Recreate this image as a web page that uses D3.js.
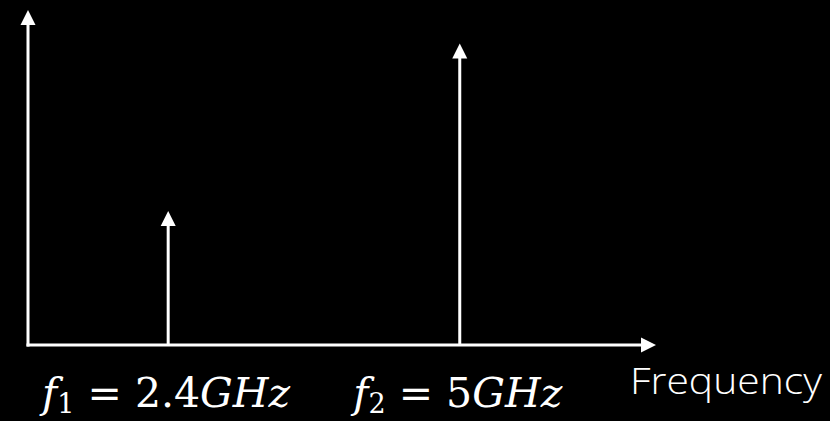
<!DOCTYPE html>
<html><head><meta charset="utf-8">
<script src="https://cdn.jsdelivr.net/npm/d3@7"></script>
<style>html,body{margin:0;padding:0;background:#000;}svg{display:block;}</style>
</head><body>
<svg id="chart" width="830" height="421"></svg>
<script>
// Data
const categories = ["f1", "f2"];
const subscripts = ["1", "2"];
const freqValues = [2.4, 5];        // GHz
const freqLabels = ["2.4", "5"];
const amplitudes = [4, 9];          // relative heights
const xDomain = [1.15, 6.75];
const yDomain = [0, 10];
const axisLabel = "Frequency";

const svg = d3.select("#chart");
svg.append("rect").attr("width", 830).attr("height", 421).attr("fill", "#000");

const x = d3.scaleLinear().domain(xDomain).range([28, 656]);
const y = d3.scaleLinear().domain(yDomain).range([345, 10]);

const head = 15, headW = 7.5, sw = 3;

function arrowUp(g, cx, y0, y1) {
  g.append("line").attr("x1", cx).attr("x2", cx).attr("y1", y0).attr("y2", y1 + head - 1)
    .attr("stroke", "#fff").attr("stroke-width", sw);
  g.append("path").attr("d", `M${cx},${y1} L${cx - headW},${y1 + head} L${cx + headW},${y1 + head} Z`)
    .attr("fill", "#fff");
}

const g = svg.append("g");
// x axis
g.append("line").attr("x1", x(xDomain[0]) - 1.5).attr("x2", x(xDomain[1]) - head + 1)
  .attr("y1", y(0)).attr("y2", y(0)).attr("stroke", "#fff").attr("stroke-width", sw);
g.append("path").attr("d", `M${x(xDomain[1])},${y(0)} L${x(xDomain[1]) - head},${y(0) - headW} L${x(xDomain[1]) - head},${y(0) + headW} Z`)
  .attr("fill", "#fff");
// y axis
arrowUp(g, x(xDomain[0]), y(0) + 1.5, y(yDomain[1]));

// spectral lines
categories.forEach((c, i) => {
  arrowUp(g, x(freqValues[i]), y(0), y(amplitudes[i]));
});

// labels
const serif = "'DejaVu Serif', 'Liberation Serif', serif";
categories.forEach((c, i) => {
  const t = svg.append("text")
    .attr("x", x(freqValues[i]) - 2)
    .attr("y", 407)
    .attr("text-anchor", "middle")
    .attr("fill", "#fff")
    .attr("font-family", serif)
    .attr("font-size", 41);
  t.append("tspan").attr("font-style", "italic").text("f");
  t.append("tspan").attr("font-size", 27).attr("dy", 6).text(subscripts[i]);
  t.append("tspan").attr("dy", -6).text(" = " + freqLabels[i]);
  t.append("tspan").attr("font-style", "italic").text("GHz");
});

svg.append("text")
  .attr("x", 630).attr("y", 394)
  .attr("fill", "#fff")
  .attr("font-family", "'Open Sans', sans-serif")
  .attr("font-weight", 300)
  .attr("font-size", 37)
  .attr("textLength", 192)
  .attr("lengthAdjust", "spacingAndGlyphs")
  .text(axisLabel);
</script>
</body></html>
